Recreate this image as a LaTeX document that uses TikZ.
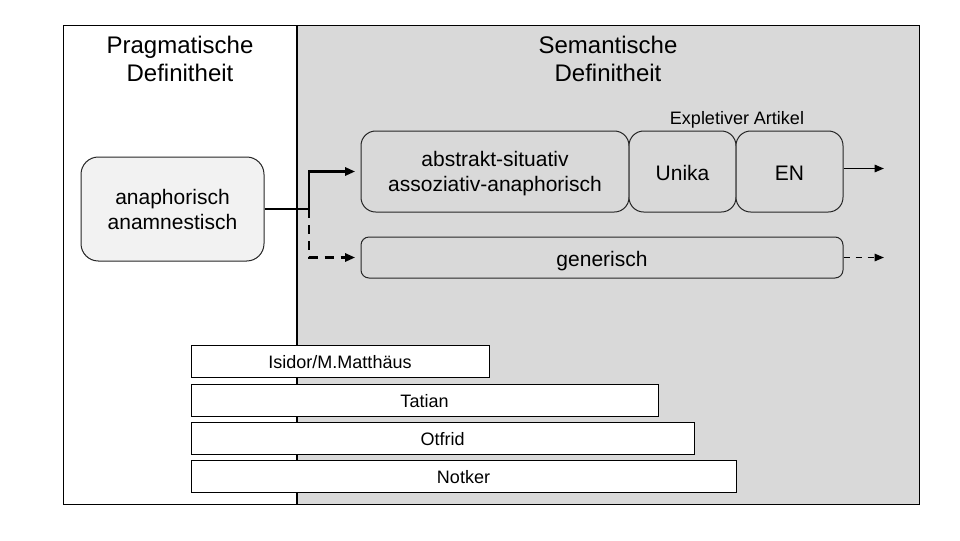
\documentclass[tikz,border=0pt]{standalone}
\usepackage{fontspec}
\setmainfont{Liberation Sans}
\usetikzlibrary{arrows.meta}
\definecolor{semgrey}{HTML}{D9D9D9}
\definecolor{boxgrey}{HTML}{F2F2F2}
\definecolor{lineg}{HTML}{262626}
\begin{document}
\begin{tikzpicture}[x=0.75pt,y=-0.75pt,
  titletext/.style={font=\fontsize{18}{21}\selectfont,align=center,inner sep=0pt},
  rbox/.style={draw=lineg,line width=0.75pt,rounded corners=11pt,align=center,
     font=\fontsize{15.75}{18.75}\selectfont,inner sep=0pt},
  onebox/.style={rbox,text height=16pt,text depth=2.5pt},
  barbox/.style={draw=black,line width=0.75pt,fill=white,minimum height=24pt,
     font=\fontsize{13.5}{16}\selectfont,inner sep=0pt,text height=14pt,text depth=2.5pt},
  conn/.style={line width=2.2pt,-{Triangle[length=7.5pt,width=6pt]},shorten >=4pt},
  thinconn/.style={line width=1.3pt,-{Triangle[length=7pt,width=5.5pt]}},
]
\useasboundingbox (0,0) rectangle (960,540);
% regions
\fill[white] (63,25) rectangle (297,504);
\fill[semgrey] (297,25) rectangle (919,504);
\draw[line width=1pt] (297,25) -- (297,504);
\draw[line width=0.75pt] (63,25) rectangle (919,504);
% titles
\node[titletext] (tp) at (180,59) {Pragmatische\\Definitheit};
\node[titletext] (ts) at (608,59) {Semantische\\Definitheit};
\node[inner sep=0pt,font=\fontsize{13.5}{16}\selectfont] (expl) at (737,120) {Expletiver Artikel};
% boxes
\node[rbox,fill=boxgrey,minimum width=137.25pt,minimum height=78pt,rounded corners=13pt] (ana) at (172.5,209) {anaphorisch\\anamnestisch};
\node[rbox,fill=semgrey,minimum width=201pt,minimum height=60.75pt] (abs) at (495,171.5) {\rule{0pt}{15pt}abstrakt-situativ\\assoziativ-anaphorisch};
\node[onebox,fill=semgrey,minimum width=80.25pt,minimum height=60.75pt] (uni) at (682.5,171.5) {Unika};
\node[onebox,fill=semgrey,minimum width=80.25pt,minimum height=60.75pt] (en) at (789.5,171.5) {EN};
\node[onebox,fill=semgrey,minimum width=361.5pt,minimum height=30.75pt,rounded corners=6pt] (gen) at (602,257.5) {generisch};
% connectors
\coordinate (j) at (309,209);
\coordinate (enout) at (884,168.5);
\coordinate (genout) at (884,257.5);
\draw[conn] (ana.east) -- (j) |- (abs.west);
\draw[conn,dash pattern=on 7pt off 5pt] (j) |- (gen.west);
\draw[thinconn] (en.east |- enout) -- (enout);
\draw[thinconn,dash pattern=on 5pt off 4pt] (gen.east) -- (genout);
% bars
\node[barbox,minimum width=223.5pt] (isi) at (340,361) {Isidor/M.Matthäus};
\node[barbox,minimum width=350.25pt] (tat) at (424.5,400) {Tatian};
\node[barbox,minimum width=377.25pt] (otf) at (442.5,438) {Otfrid};
\node[barbox,minimum width=408.75pt] (not) at (463.5,476) {Notker};
\end{tikzpicture}
\end{document}
